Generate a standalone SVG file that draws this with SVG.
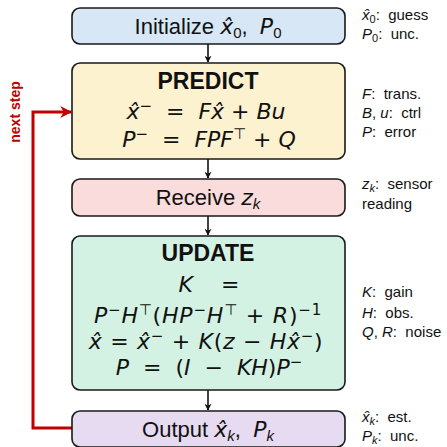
<svg xmlns="http://www.w3.org/2000/svg" width="447" height="447" viewBox="0 0 447 447">
<style>
.box{stroke:#1a1a1a;stroke-width:1.6}
.t{font-family:"Liberation Sans","DejaVu Sans",sans-serif;font-size:22px;fill:#111;text-anchor:middle;white-space:pre}
.q{font-family:"DejaVu Sans",sans-serif;font-size:22px;fill:#111;text-anchor:middle;white-space:pre}
.h{font-family:"Liberation Sans","DejaVu Sans",sans-serif;font-size:23px;font-weight:bold;fill:#111;text-anchor:middle}
.m{font-style:italic}
.n{font-family:"Liberation Sans","DejaVu Sans",sans-serif;font-size:15px;fill:#111;white-space:pre}
.s{font-size:15px}
.c{stroke:#111;stroke-width:1.6;fill:none}
</style>
<defs>
<marker id="ah" viewBox="0 0 10 10" refX="9" refY="5" markerWidth="7" markerHeight="7" orient="auto" markerUnits="userSpaceOnUse">
<path d="M0,0 L10,5 L0,10 L3,5 Z" fill="#111"/>
</marker>
<marker id="ahr" viewBox="0 0 10 10" refX="9" refY="5" markerWidth="12" markerHeight="12" orient="auto" markerUnits="userSpaceOnUse">
<path d="M0,0 L10,5 L0,10 L3,5 Z" fill="#c00000"/>
</marker>
</defs>

<g id="connectors">
<line class="c" x1="208" y1="44" x2="208" y2="62" marker-end="url(#ah)"/>
<line class="c" x1="208" y1="159" x2="208" y2="178" marker-end="url(#ah)"/>
<line class="c" x1="208" y1="216" x2="208" y2="235" marker-end="url(#ah)"/>
<line class="c" x1="208" y1="390" x2="208" y2="410" marker-end="url(#ah)"/>
<path d="M72,428 H33 V112 H71" fill="none" stroke="#c00000" stroke-width="3" marker-end="url(#ahr)"/>
<text x="20" y="112" transform="rotate(-90 20 112)" font-family="Liberation Sans,DejaVu Sans,sans-serif" font-size="14" font-weight="bold" fill="#c00000" text-anchor="middle">next step</text>
</g>

<g id="init">
<rect class="box" x="72" y="8" width="273" height="36" rx="8" fill="#d7e7f6"/>
<text class="t" x="208" y="34">Initialize <tspan class="m" font-family="DejaVu Sans">x̂</tspan><tspan class="s" dy="4">0</tspan><tspan dy="-4">,  </tspan><tspan class="m" font-family="DejaVu Sans">P</tspan><tspan class="s" dy="4">0</tspan></text>
<text class="n" x="362" y="20"><tspan class="m">x̂</tspan><tspan font-size="11" dy="3">0</tspan><tspan dy="-3">:  guess</tspan></text>
<text class="n" x="362" y="39"><tspan class="m">P</tspan><tspan font-size="11" dy="3">0</tspan><tspan dy="-3">:  unc.</tspan></text>
</g>

<g id="predict">
<rect class="box" x="72" y="63" width="273" height="96" rx="8" fill="#fcf2cf"/>
<text class="h" x="208" y="89">PREDICT</text>
<text class="q" x="206" y="119"><tspan class="m">x̂</tspan><tspan class="s" dy="-8">−</tspan><tspan dy="8">  =  </tspan><tspan class="m">Fx̂</tspan> + <tspan class="m">Bu</tspan></text>
<text class="q" x="209" y="147"><tspan class="m">P</tspan><tspan class="s" dy="-8">−</tspan><tspan dy="8">  =  </tspan><tspan class="m">FPF</tspan><tspan class="s" dy="-8">⊤</tspan><tspan dy="8"> + </tspan><tspan class="m">Q</tspan></text>
<text class="n" x="362" y="99"><tspan class="m">F</tspan>:  trans.</text>
<text class="n" x="362" y="118"><tspan class="m">B</tspan>, <tspan class="m">u</tspan>:  ctrl</text>
<text class="n" x="362" y="137"><tspan class="m">P</tspan>:  error</text>
</g>

<g id="receive">
<rect class="box" x="72" y="179" width="273" height="37" rx="8" fill="#f9dcdb"/>
<text class="t" x="208" y="205">Receive <tspan class="m" font-family="DejaVu Sans">z</tspan><tspan class="s m" dy="4">k</tspan></text>
<text class="n" x="362" y="189"><tspan class="m">z</tspan><tspan class="m" font-size="11" dy="3">k</tspan><tspan dy="-3">:  sensor</tspan></text>
<text class="n" x="362" y="209">reading</text>
</g>

<g id="update">
<rect class="box" x="72" y="236" width="273" height="154" rx="8" fill="#d4f2e3"/>
<text class="h" x="208" y="261">UPDATE</text>
<text class="q" x="209" y="292"><tspan class="m">K</tspan>    =</text>
<text class="q" x="208" y="323" letter-spacing="0.8"><tspan class="m">P</tspan><tspan class="s" dy="-8">−</tspan><tspan class="m" dy="8">H</tspan><tspan class="s" dy="-8">⊤</tspan><tspan dy="8">(</tspan><tspan class="m">HP</tspan><tspan class="s" dy="-8">−</tspan><tspan class="m" dy="8">H</tspan><tspan class="s" dy="-8">⊤</tspan><tspan dy="8"> + </tspan><tspan class="m">R</tspan>)<tspan class="s" dy="-8">−1</tspan></text>
<text class="q" x="206" y="349" letter-spacing="0.7"><tspan class="m">x̂</tspan> = <tspan class="m">x̂</tspan><tspan class="s" dy="-8">−</tspan><tspan dy="8"> + </tspan><tspan class="m">K</tspan>(<tspan class="m">z</tspan> − <tspan class="m">Hx̂</tspan><tspan class="s" dy="-8">−</tspan><tspan dy="8">)</tspan></text>
<text class="q" x="209" y="375"><tspan class="m">P</tspan>  =  (<tspan class="m">I</tspan>  −  <tspan class="m">KH</tspan>)<tspan class="m">P</tspan><tspan class="s" dy="-8">−</tspan></text>
<text class="n" x="362" y="297"><tspan class="m">K</tspan>:  gain</text>
<text class="n" x="362" y="318"><tspan class="m">H</tspan>:  obs.</text>
<text class="n" x="362" y="337"><tspan class="m">Q</tspan>, <tspan class="m">R</tspan>:  noise</text>
</g>

<g id="output">
<rect class="box" x="72" y="411" width="273" height="36" rx="8" fill="#e7dbf1"/>
<text class="t" x="208" y="437">Output <tspan class="m" font-family="DejaVu Sans">x̂</tspan><tspan class="s m" dy="4">k</tspan><tspan dy="-4">,  </tspan><tspan class="m" font-family="DejaVu Sans">P</tspan><tspan class="s m" dy="4">k</tspan></text>
<text class="n" x="362" y="422"><tspan class="m">x̂</tspan><tspan class="m" font-size="11" dy="3">k</tspan><tspan dy="-3">:  est.</tspan></text>
<text class="n" x="362" y="441"><tspan class="m">P</tspan><tspan class="m" font-size="11" dy="3">k</tspan><tspan dy="-3">:  unc.</tspan></text>
</g>
</svg>
